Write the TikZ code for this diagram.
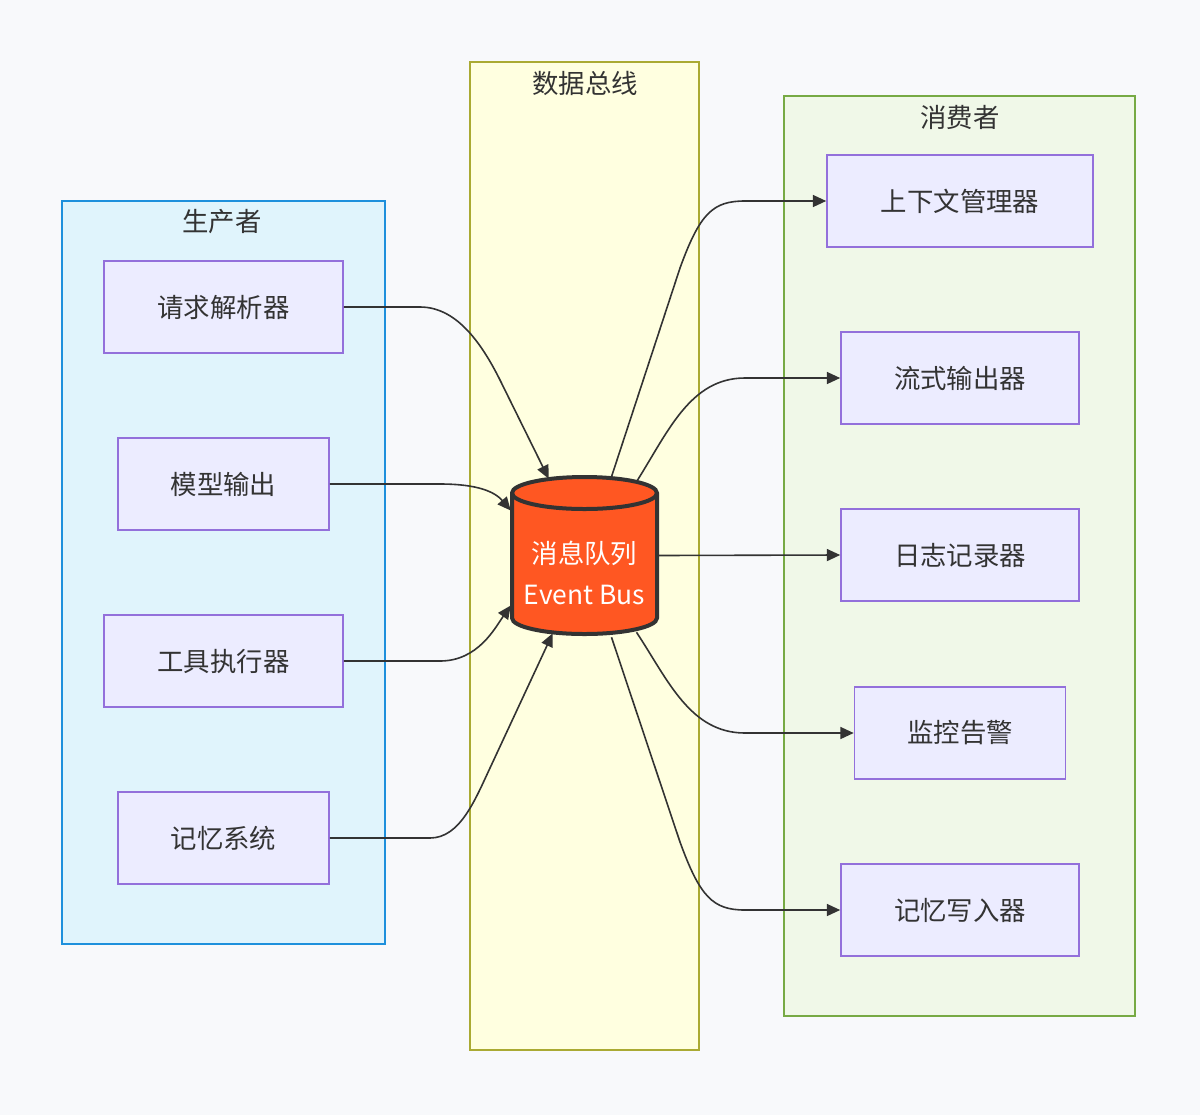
\documentclass[tikz,border=0pt]{standalone}
\usepackage{fontspec}
\setmainfont{Noto Sans CJK SC}
\usetikzlibrary{arrows.meta,calc}
\definecolor{bg}{RGB}{248,249,251}
\definecolor{txt}{RGB}{51,51,51}
\definecolor{nodefill}{RGB}{236,236,255}
\definecolor{nodeline}{RGB}{147,112,219}
\definecolor{pfill}{RGB}{224,244,252}
\definecolor{pline}{RGB}{30,144,220}
\definecolor{bfill}{RGB}{255,255,224}
\definecolor{bline}{RGB}{170,170,51}
\definecolor{cfill}{RGB}{240,248,232}
\definecolor{cline}{RGB}{119,170,68}
\definecolor{mqfill}{RGB}{255,87,34}
\tikzset{
  box/.style={draw=nodeline, fill=nodefill, line width=1.2pt, text=txt,
    minimum height={92*0.75pt}, inner sep=0pt, font=\fontsize{19.8}{23}\selectfont},
  title/.style={text=txt, font=\fontsize{19.8}{23}\selectfont, inner sep=0pt},
  conn/.style={draw=txt, line width=1.2pt, -{Triangle[length=10pt,width=9pt]}},
}
\begin{document}
\begin{tikzpicture}[x=0.75pt,y=-0.75pt]
\fill[bg] (0,0) rectangle (1200,1115);
\useasboundingbox (0,0) rectangle (1200,1115);
% clusters
\draw[draw=pline, fill=pfill, line width=1.1pt] (62,201) rectangle (385,944);
\draw[draw=bline, fill=bfill, line width=1.1pt] (470,62) rectangle (699,1050);
\draw[draw=cline, fill=cfill, line width=1.1pt] (784,96) rectangle (1135,1016);
\node[title] (tp) at (222,222) {生产者};
\node[title] (tb) at (585,83) {数据总线};
\node[title] (tc) at (960,117) {消费者};
% producers
\node[box, minimum width={239*0.75pt}] (p1) at (223.5,307) {请求解析器};
\node[box, minimum width={211*0.75pt}] (p2) at (223.5,484) {模型输出};
\node[box, minimum width={239*0.75pt}] (p3) at (223.5,661) {工具执行器};
\node[box, minimum width={211*0.75pt}] (p4) at (223.5,838) {记忆系统};
% consumers
\node[box, minimum width={266*0.75pt}] (c1) at (960,201) {上下文管理器};
\node[box, minimum width={238*0.75pt}] (c2) at (960,378) {流式输出器};
\node[box, minimum width={238*0.75pt}] (c3) at (960,555) {日志记录器};
\node[box, minimum width={211*0.75pt}] (c4) at (960,733) {监控告警};
\node[box, minimum width={238*0.75pt}] (c5) at (960,910) {记忆写入器};
% message queue cylinder
\node[minimum width={145*0.75pt}, minimum height={157*0.75pt}, inner sep=0pt] (mq) at (584.5,555.5) {};
\draw[draw=txt, fill=mqfill, line width=3pt]
  (512,493) -- (512,618) arc[start angle=180, end angle=0, x radius=72.5, y radius=16]
  -- (657,493) arc[start angle=0, end angle=-180, x radius=72.5, y radius=16] -- cycle;
\draw[draw=txt, line width=3pt] (512,493) arc[start angle=180, end angle=0, x radius=72.5, y radius=16];
\node[text=white, font=\fontsize{19.8}{23}\selectfont, inner sep=0pt] (mqt1) at (584.5,553) {消息队列};
\node[text=white, font=\fontsize{19.8}{23}\selectfont, inner sep=0pt] (mqt2) at (584.5,595) {Event Bus};
% named points on the cylinder
\coordinate (in1) at ($(mq.north west)+(37,2)$);
\coordinate (in2) at ($(mq.west)+(-1,-45)$);
\coordinate (in3) at ($(mq.west)+(-1,50)$);
\coordinate (in4) at ($(mq.south west)+(41,-1)$);
\coordinate (o1) at ($(mq.north)+(27,0)$);
\coordinate (o2) at ($(mq.north)+(52,5)$);
\coordinate (o4) at ($(mq.south)+(52,-2)$);
\coordinate (o5) at ($(mq.south)+(27,3)$);
% edges in
\draw[conn] (p1.east) -- (420,307) .. controls (455,307) and (480,340) .. (500,380) -- (in1);
\draw[conn] (p2.east) -- (440,484) .. controls (478,484) and (495,492) .. (in2);
\draw[conn] (p3.east) -- (440,661) .. controls (478,661) and (495,628) .. (in3);
\draw[conn] (p4.east) -- (430,838) .. controls (460,838) and (475,800) .. (490,768) -- (in4);
% edges out
\draw[conn] (o1) -- (680,268) .. controls (700,213) and (713,201) .. (745,201) -- (c1.west);
\draw[conn] (o2) .. controls (668,432) and (690,378) .. (745,378) -- (c2.west);
\draw[conn] (mq.east) -- (c3.west);
\draw[conn] (o4) .. controls (668,680) and (690,733) .. (745,733) -- (c4.west);
\draw[conn] (o5) -- (680,842) .. controls (700,897) and (713,910) .. (745,910) -- (c5.west);
\end{tikzpicture}
\end{document}
